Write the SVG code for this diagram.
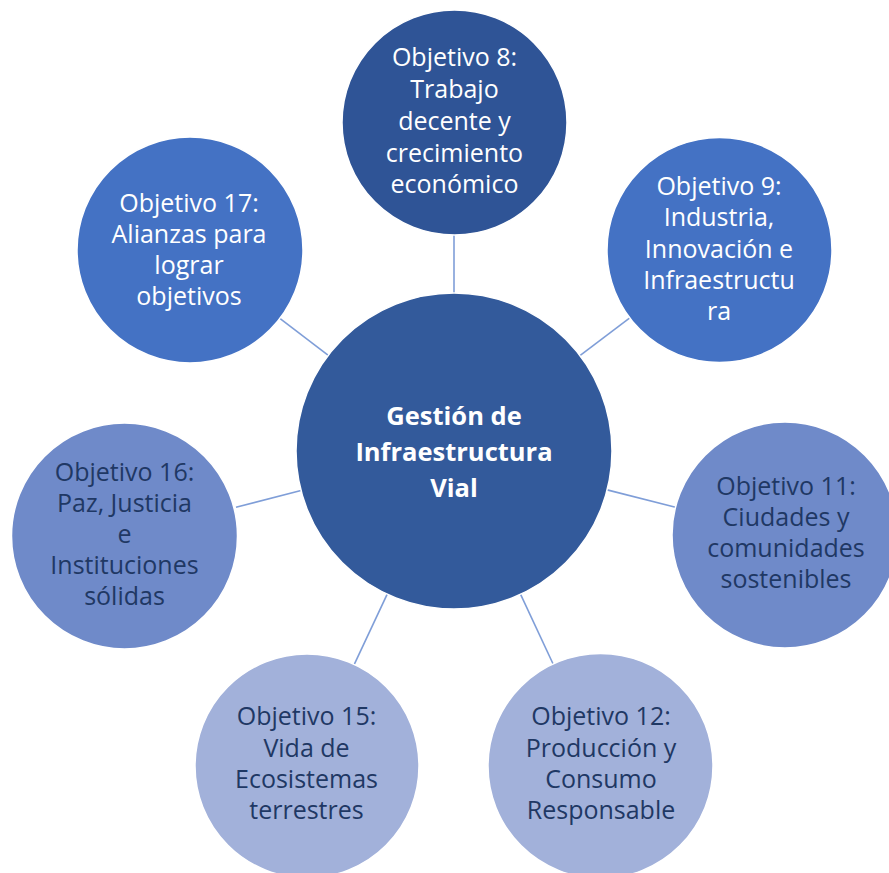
<svg xmlns="http://www.w3.org/2000/svg" width="889" height="873" viewBox="0 0 889 873">
<style>
.bg{fill:#ffffff}
.link{stroke:#7F9ED8;stroke-width:1.6;fill:none}
.node circle{stroke:#ffffff;stroke-width:1.5}
.t{font-family:"Open Sans","Liberation Sans",sans-serif;font-size:25px;text-anchor:middle}
.w{fill:#ffffff}
.d{fill:#1F3864}
.b{font-weight:bold;font-size:25.5px}
.c0{fill:#335A9B}
.c1{fill:#2F5496}
.c2{fill:#4472C4}
.c3{fill:#6F8AC9}
.c4{fill:#A2B1DA}
</style>
<rect class="bg" x="0" y="0" width="889" height="873"/>
<g id="connectors">
<line class="link" x1="454" y1="293" x2="454" y2="235"/>
<line class="link" x1="579.9" y1="355.6" x2="629.8" y2="317.9"/>
<line class="link" x1="328.3" y1="355.3" x2="279.5" y2="318.2"/>
<line class="link" x1="301" y1="490.5" x2="236" y2="507.3"/>
<line class="link" x1="607.1" y1="489.9" x2="675.5" y2="507.2"/>
<line class="link" x1="387.2" y1="594.2" x2="354.4" y2="664.1"/>
<line class="link" x1="520.6" y1="594.3" x2="553.1" y2="664"/>
</g>
<g id="center" class="node">
<circle class="c0" cx="454" cy="451" r="158"/>
<text class="t w b"><tspan x="454" y="425">Gestión de</tspan><tspan x="454" y="461">Infraestructura</tspan><tspan x="454" y="497">Vial</tspan></text>
</g>
<g id="obj8" class="node">
<circle class="c1" cx="454.5" cy="122.5" r="112.5"/>
<text class="t w"><tspan x="454.5" y="66">Objetivo 8:</tspan><tspan x="454.5" y="98">Trabajo</tspan><tspan x="454.5" y="130">decente y</tspan><tspan x="454.5" y="162">crecimiento</tspan><tspan x="454.5" y="193">económico</tspan></text>
</g>
<g id="obj9" class="node">
<circle class="c2" cx="719.5" cy="250" r="112.5"/>
<text class="t w"><tspan x="719" y="195">Objetivo 9:</tspan><tspan x="719" y="226">Industria,</tspan><tspan x="719" y="258">Innovación e</tspan><tspan x="719" y="289">Infraestructu</tspan><tspan x="719" y="320">ra</tspan></text>
</g>
<g id="obj17" class="node">
<circle class="c2" cx="190" cy="250" r="113"/>
<text class="t w"><tspan x="189" y="212">Objetivo 17:</tspan><tspan x="189" y="243">Alianzas para</tspan><tspan x="189" y="274">lograr</tspan><tspan x="189" y="305">objetivos</tspan></text>
</g>
<g id="obj16" class="node">
<circle class="c3" cx="124.5" cy="536" r="113"/>
<text class="t d"><tspan x="124.5" y="481">Objetivo 16:</tspan><tspan x="124.5" y="512">Paz, Justicia</tspan><tspan x="124.5" y="543">e</tspan><tspan x="124.5" y="574">Instituciones</tspan><tspan x="124.5" y="605">sólidas</tspan></text>
</g>
<g id="obj11" class="node">
<circle class="c3" cx="785" cy="535" r="113"/>
<text class="t d"><tspan x="786" y="495">Objetivo 11:</tspan><tspan x="786" y="526">Ciudades y</tspan><tspan x="786" y="557">comunidades</tspan><tspan x="786" y="588">sostenibles</tspan></text>
</g>
<g id="obj15" class="node">
<circle class="c4" cx="307" cy="766" r="112"/>
<text class="t d"><tspan x="306.5" y="725">Objetivo 15:</tspan><tspan x="306.5" y="757">Vida de</tspan><tspan x="306.5" y="788">Ecosistemas</tspan><tspan x="306.5" y="819">terrestres</tspan></text>
</g>
<g id="obj12" class="node">
<circle class="c4" cx="600.5" cy="766" r="112.5"/>
<text class="t d"><tspan x="601" y="725">Objetivo 12:</tspan><tspan x="601" y="757">Producción y</tspan><tspan x="601" y="788">Consumo</tspan><tspan x="601" y="819">Responsable</tspan></text>
</g>
</svg>
